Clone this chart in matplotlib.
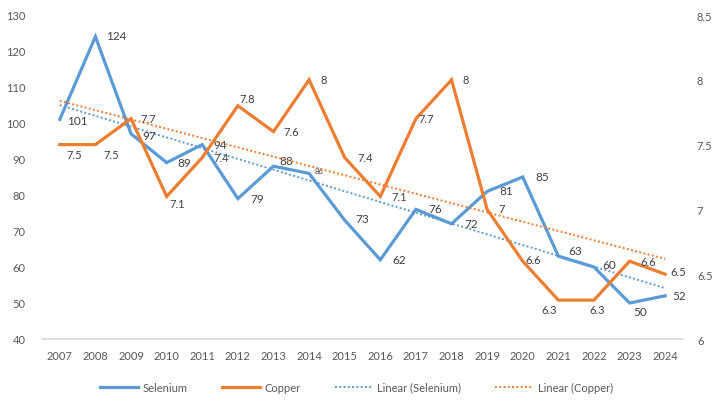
import matplotlib
matplotlib.use("Agg")
import matplotlib.pyplot as plt
import numpy as np

years = list(range(2007, 2025))
selenium = [101, 124, 97, 89, 94, 79, 88, 86, 73, 62, 76, 72, 81, 85, 63, 60, 50, 52]
copper = [7.5, 7.5, 7.7, 7.1, 7.4, 7.8, 7.6, 8, 7.4, 7.1, 7.7, 8, 7, 6.6, 6.3, 6.3, 6.6, 6.5]
left_ticks = [40, 50, 60, 70, 80, 90, 100, 110, 120, 130]
right_ticks = [6, 6.5, 7, 7.5, 8, 8.5]

# label offsets in points (dx, dy)
se_off = [(5, -1), (8, 1), (8, -1), (8, 0), (8, 0), (9, 0), (4, 4), (4, 2), (8, 1),
          (9, 0), (9, 1), (9, 0), (9, 1), (9, 0), (7, 4), (6, 2), (3, -6), (5, 0)]
cu_off = [(5, -7), (6, -7), (7, 0), (2, -5), (8, 0), (1, 5), (7, 0), (8, 0), (9, 0),
          (8, 0), (2, 0), (8, 0), (8, 1), (2, 1), (-12, -7), (-3, -7), (8, 0), (4, 2)]

blue = "#5B9BD5"
orange = "#ED7D31"
txt = "#404040"
axc = "#595959"

plt.rcParams['font.family'] = ['Lato', 'DejaVu Sans']

fig = plt.figure(figsize=(7.2, 4.1), dpi=100)
ax = fig.add_axes([42/720, 1-340/410, (683-42)/720, (340-16)/410])
ax2 = ax.twinx()

x = np.arange(len(years))
ax.plot(x, selenium, color=blue, lw=2.3, solid_joinstyle='miter', zorder=3, label="Selenium")
ax2.plot(x, copper, color=orange, lw=2.3, solid_joinstyle='miter', zorder=3, label="Copper")

ps = np.polyfit(x, selenium, 1)
pc = np.polyfit(x, copper, 1)
ax.plot(x, np.polyval(ps, x), color=blue, lw=1.4, ls=(0, (1, 1.2)), zorder=2, label="Linear (Selenium)")
ax2.plot(x, np.polyval(pc, x), color=orange, lw=1.4, ls=(0, (1, 1.2)), zorder=2, label="Linear (Copper)")

ax.set_xlim(-0.5, len(years) - 0.5)
ax.set_ylim(40, 130)
ax2.set_ylim(6, 8.5)
ax.set_yticks(left_ticks)
ax2.set_yticks(right_ticks)
ax2.set_yticklabels([f"{t:g}" for t in right_ticks])
ax.set_xticks(x)
ax.set_xticklabels([str(y) for y in years])

for a in (ax, ax2):
    for s in a.spines.values():
        s.set_visible(False)
    a.tick_params(length=0, labelsize=8, colors=axc)
ax.spines['bottom'].set_visible(True)
ax.spines['bottom'].set_color("#d9d9d9")
ax.spines['bottom'].set_linewidth(1.2)
ax.tick_params(axis='y', pad=12)
ax.tick_params(axis='x', pad=8)
ax2.tick_params(axis='y', pad=10)

for i, v in enumerate(selenium):
    dx, dy = se_off[i]
    fs = 5.5 if i == 7 else 8.5
    ax.annotate(f"{v}", (x[i], v), xytext=(dx, dy), textcoords="offset points",
                ha="left", va="center", fontsize=fs, color=txt, zorder=5)
for i, v in enumerate(copper):
    dx, dy = cu_off[i]
    ax2.annotate(f"{v:g}", (x[i], v), xytext=(dx, dy), textcoords="offset points",
                 ha="left", va="center", fontsize=8, color=txt, zorder=5)

h1, l1 = ax.get_legend_handles_labels()
h2, l2 = ax2.get_legend_handles_labels()
handles = [h1[0], h2[0], h1[1], h2[1]]
labels = [l1[0], l2[0], l1[1], l2[1]]
fig.legend(handles, labels, loc="center", bbox_to_anchor=(0.495, 1-388/410), ncol=4,
           frameon=False, fontsize=8, handlelength=3.4, columnspacing=3.1,
           handletextpad=0.4, labelcolor=axc)

fig.savefig("out.png", dpi=100, facecolor="white")
